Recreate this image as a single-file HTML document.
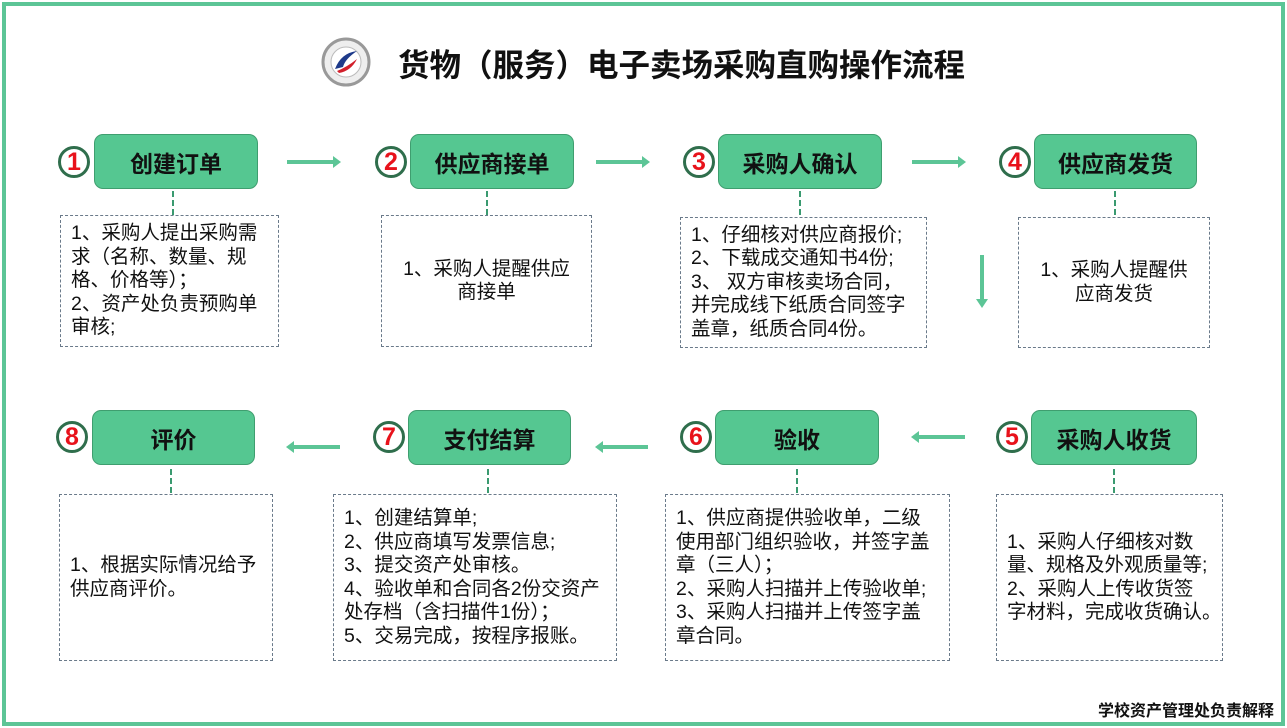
<!DOCTYPE html>
<html><head><meta charset="utf-8"><style>
*{margin:0;padding:0;box-sizing:border-box}
body{width:1287px;height:728px;background:#fff;position:relative;overflow:hidden;font-family:"Liberation Sans","Noto Sans CJK SC",sans-serif}
.frame{position:absolute;left:2px;top:2px;width:1283px;height:724px;border:4px solid #5cc596}
.node{position:absolute;background:#55c791;border:1.5px solid #3f9e6f;border-radius:9px;display:flex;align-items:center;justify-content:center;font-size:23px;font-weight:bold;color:#111;height:55px}
.c{position:absolute;width:32px;height:32px;border:3px solid #2f6e4c;border-radius:50%;background:#fff;color:#e8121b;font-weight:bold;font-size:25px;display:flex;align-items:center;justify-content:center;line-height:1}
.d{position:absolute;border:1px dashed #6a7a8a;font-size:19.5px;line-height:23.5px;color:#111;padding:0 10px;display:flex;align-items:center;white-space:nowrap;letter-spacing:0}
.d.cen{justify-content:center;text-align:center}
.v{position:absolute;width:0;border-left:2px dashed #3a9a70;height:24px}
.ar{position:absolute;height:4px;background:#5cc596}
.ar.r::after{content:"";position:absolute;right:-6px;top:-4px;border-left:8px solid #5cc596;border-top:6px solid transparent;border-bottom:6px solid transparent}
.ar.l::after{content:"";position:absolute;left:-6px;top:-4px;border-right:8px solid #5cc596;border-top:6px solid transparent;border-bottom:6px solid transparent}
</style></head><body>
<div class="frame"></div>
<svg style="position:absolute;left:321px;top:37px" width="50" height="50"><circle cx="25" cy="25" r="23" fill="#eee" stroke="#999" stroke-width="3"/><circle cx="25" cy="25" r="15" fill="#fff" stroke="#bbb"/><path d="M14 32 Q20 16 36 14 Q24 22 22 30 Z" fill="#1e3a8a"/><path d="M16 34 Q26 30 36 22 Q30 34 18 36 Z" fill="#d21f2b"/></svg>
<div style="position:absolute;left:398px;top:40px;font-size:31.5px;font-weight:bold;color:#111;white-space:nowrap">货物（服务）电子卖场采购直购操作流程</div>

<div class="node" style="left:94px;top:134px;width:164px">创建订单</div><div class="c" style="left:58px;top:146px">1</div>
<div class="node" style="left:410px;top:134px;width:164px">供应商接单</div><div class="c" style="left:375px;top:146px">2</div>
<div class="node" style="left:718px;top:134px;width:164px">采购人确认</div><div class="c" style="left:683px;top:146px">3</div>
<div class="node" style="left:1034px;top:134px;width:163px">供应商发货</div><div class="c" style="left:999px;top:146px">4</div>

<div class="ar r" style="left:287px;top:160px;width:48px"></div>
<div class="ar r" style="left:596px;top:160px;width:48px"></div>
<div class="ar r" style="left:912px;top:160px;width:48px"></div>
<div style="position:absolute;left:980px;top:255px;width:4px;height:46px;background:#5cc596"></div>
<div style="position:absolute;left:976px;top:299px;border-top:9px solid #5cc596;border-left:6px solid transparent;border-right:6px solid transparent"></div>

<div class="v" style="left:172px;top:191px"></div>
<div class="v" style="left:486px;top:191px"></div>
<div class="v" style="left:799px;top:191px"></div>
<div class="v" style="left:1114px;top:191px"></div>

<div class="d" style="left:60px;top:215px;width:219px;height:132px">1、采购人提出采购需<br>求（名称、数量、规<br>格、价格等）；<br>2、资产处负责预购单<br>审核;</div>
<div class="d cen" style="left:381px;top:215px;width:211px;height:132px">1、采购人提醒供应<br>商接单</div>
<div class="d" style="left:680px;top:217px;width:247px;height:131px">1、仔细核对供应商报价;<br>2、下载成交通知书4份;<br>3、 双方审核卖场合同，<br>并完成线下纸质合同签字<br>盖章，纸质合同4份。</div>
<div class="d cen" style="left:1018px;top:217px;width:192px;height:131px">1、采购人提醒供<br>应商发货</div>

<div class="node" style="left:92px;top:410px;width:163px">评价</div><div class="c" style="left:56px;top:421px">8</div>
<div class="node" style="left:408px;top:410px;width:163px">支付结算</div><div class="c" style="left:373px;top:421px">7</div>
<div class="node" style="left:715px;top:410px;width:164px">验收</div><div class="c" style="left:680px;top:421px">6</div>
<div class="node" style="left:1031px;top:410px;width:166px">采购人收货</div><div class="c" style="left:996px;top:421px">5</div>

<div class="ar l" style="left:292px;top:445px;width:48px"></div>
<div class="ar l" style="left:601px;top:445px;width:47px"></div>
<div class="ar l" style="left:917px;top:435px;width:48px"></div>

<div class="v" style="left:170px;top:469px"></div>
<div class="v" style="left:487px;top:469px"></div>
<div class="v" style="left:796px;top:469px"></div>
<div class="v" style="left:1113px;top:469px"></div>

<div class="d" style="left:59px;top:494px;width:214px;height:167px">1、根据实际情况给予<br>供应商评价。</div>
<div class="d" style="left:333px;top:494px;width:284px;height:167px">1、创建结算单;<br>2、供应商填写发票信息;<br>3、提交资产处审核。<br>4、验收单和合同各2份交资产<br>处存档（含扫描件1份）；<br>5、交易完成，按程序报账。</div>
<div class="d" style="left:665px;top:494px;width:285px;height:167px">1、供应商提供验收单，二级<br>使用部门组织验收，并签字盖<br>章（三人）；<br>2、采购人扫描并上传验收单;<br>3、采购人扫描并上传签字盖<br>章合同。</div>
<div class="d" style="left:996px;top:494px;width:227px;height:167px">1、采购人仔细核对数<br>量、规格及外观质量等;<br>2、采购人上传收货签<br>字材料，完成收货确认。</div>

<div style="position:absolute;left:1098px;top:697px;font-size:16px;font-weight:bold;color:#111;white-space:nowrap">学校资产管理处负责解释</div>
</body></html>
